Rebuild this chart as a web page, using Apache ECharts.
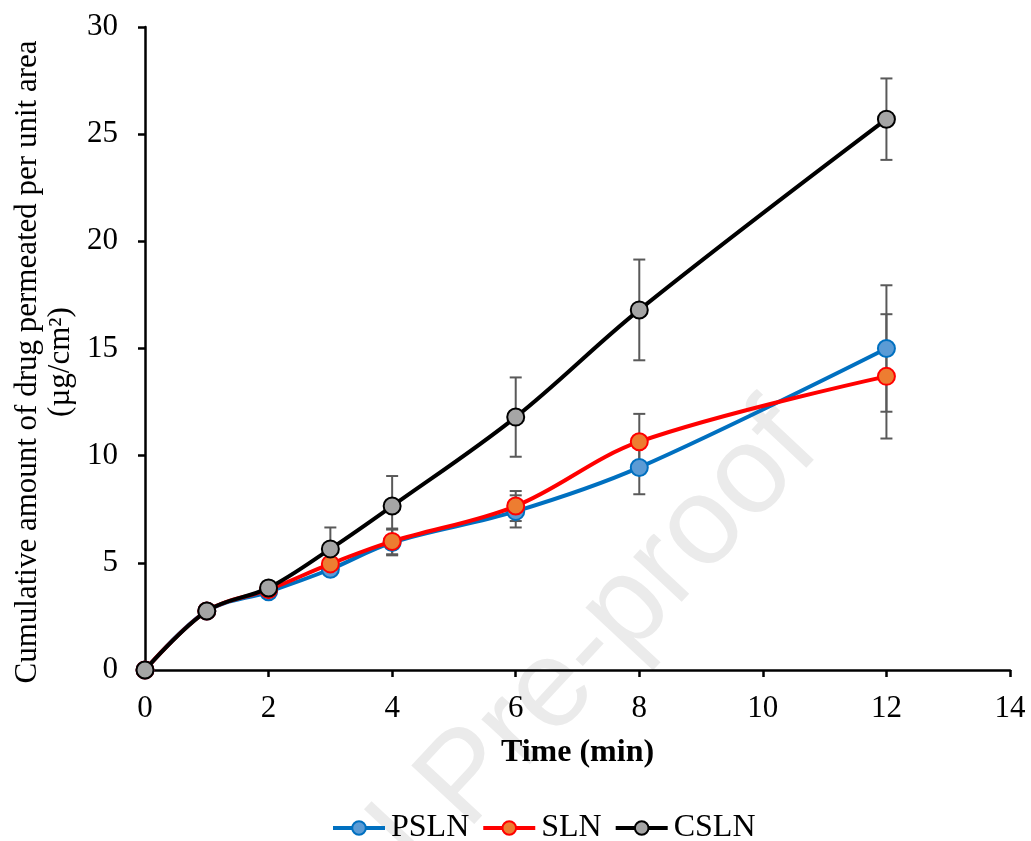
<!DOCTYPE html>
<html>
<head>
<meta charset="utf-8">
<script src="https://cdn.jsdelivr.net/npm/echarts@6/dist/echarts.min.js"></script>
<style>
html,body{margin:0;padding:0;background:#fff;}
#chart{width:1031px;height:841px;}
</style>
</head>
<body>
<div id="chart"></div>
<script>
// ---- data ----
const times = [0, 1, 2, 3, 4, 6, 8, 12];
const seriesNames = ['PSLN', 'SLN', 'CSLN'];
const psln = [0, 2.75, 3.65, 4.7, 5.95, 7.4, 9.45, 15.0];
const sln  = [0, 2.75, 3.75, 4.95, 6.0, 7.65, 10.65, 13.7];
const csln = [0, 2.75, 3.83, 5.65, 7.65, 11.8, 16.8, 25.7];
const errPsln = [0, 0, 0.15, 0.2, 0.6, 0.75, 1.25, 2.95];
const errSln  = [0, 0, 0.1, 0.2, 0.6, 0.7, 1.3, 2.9];
const errCsln = [0, 0, 0.3, 1.0, 1.4, 1.85, 2.35, 1.9];
const xTicks = [0, 2, 4, 6, 8, 10, 12, 14];
const yTicks = [0, 5, 10, 15, 20, 25, 30];

const FONT = '"Liberation Serif", "Times New Roman", serif';

const styles = [
  {line: '#0070C0', fill: '#5B9BD5', border: '#0070C0'},
  {line: '#FF0000', fill: '#ED7D31', border: '#FF0000'},
  {line: '#000000', fill: '#A5A5A5', border: '#000000'}
];
const values = [psln, sln, csln];
const errs = [errPsln, errSln, errCsln];

const chart = echarts.init(document.getElementById('chart'));

const series = [];
// error bars
values.forEach((vals, k) => {
  series.push({
    type: 'custom',
    name: seriesNames[k] + ' err',
    z: 1,
    silent: true,
    data: times.map((t, i) => [t, vals[i], errs[k][i]]),
    encode: {x: 0, y: 1},
    renderItem: function (params, api) {
      const x = api.value(0), y = api.value(1), e = api.value(2);
      if (!e) return null;
      const hi = api.coord([x, y + e]);
      const lo = api.coord([x, y - e]);
      const cw = 6;
      const st = {stroke: '#595959', lineWidth: 2};
      return {
        type: 'group',
        children: [
          {type: 'line', shape: {x1: hi[0], y1: hi[1], x2: lo[0], y2: lo[1]}, style: st},
          {type: 'line', shape: {x1: hi[0] - cw, y1: hi[1], x2: hi[0] + cw, y2: hi[1]}, style: st},
          {type: 'line', shape: {x1: lo[0] - cw, y1: lo[1], x2: lo[0] + cw, y2: lo[1]}, style: st}
        ]
      };
    }
  });
});
// lines
values.forEach((vals, k) => {
  series.push({
    type: 'line',
    name: seriesNames[k],
    z: 3 + k,
    smooth: 0.35,
    symbol: 'circle',
    symbolSize: 17,
    showAllSymbol: true,
    data: times.map((t, i) => [t, vals[i]]),
    lineStyle: {color: styles[k].line, width: 4},
    itemStyle: {color: styles[k].fill, borderColor: styles[k].border, borderWidth: 2},
    emphasis: {disabled: true}
  });
});

chart.setOption({
  animation: false,
  backgroundColor: '#ffffff',
  textStyle: {fontFamily: FONT},
  grid: {left: 145, right: 21, top: 27, bottom: 171, containLabel: false},
  graphic: [
    {
      type: 'text',
      x: 468, y: 780,
      rotation: 47 * Math.PI / 180,
      z: -10,
      silent: true,
      style: {
        text: 'Journal Pre-proof',
        font: '125px "Liberation Sans", Arial, sans-serif',
        fill: '#ebebeb',
        textAlign: 'center',
        textVerticalAlign: 'middle'
      }
    },
    {
      type: 'text',
      x: 44, y: 362,
      rotation: Math.PI / 2,
      style: {
        text: 'Cumulative amount of drug permeated per unit area\n(µg/cm²)',
        font: '31px ' + FONT,
        fill: '#000',
        textAlign: 'center',
        textVerticalAlign: 'middle',
        lineHeight: 33
      }
    }
  ],
  legend: {
    top: 812,
    left: 331,
    padding: 0,
    data: seriesNames,
    itemWidth: 52,
    itemHeight: 17,
    itemGap: 12,
    lineStyle: {width: 4},
    textStyle: {fontFamily: FONT, fontSize: 32, color: '#000', padding: [0, 0, 0, 1]}
  },
  xAxis: {
    type: 'value',
    min: xTicks[0],
    max: xTicks[xTicks.length - 1],
    interval: 2,
    name: 'Time (min)',
    nameLocation: 'middle',
    nameGap: 67,
    nameTextStyle: {fontFamily: FONT, fontSize: 32, fontWeight: 'bold', color: '#000'},
    axisLine: {lineStyle: {color: '#000', width: 2.5}},
    axisTick: {show: true, length: 7, lineStyle: {color: '#000', width: 2.5}},
    axisLabel: {fontFamily: FONT, fontSize: 31, color: '#000', margin: 23},
    splitLine: {show: false}
  },
  yAxis: {
    type: 'value',
    min: yTicks[0],
    max: yTicks[yTicks.length - 1],
    interval: 5,
    axisLine: {show: true, lineStyle: {color: '#000', width: 2.5}},
    axisTick: {show: true, length: 7, lineStyle: {color: '#000', width: 2.5}},
    axisLabel: {fontFamily: FONT, fontSize: 31, color: '#000', margin: 27},
    splitLine: {show: false}
  },
  series: series
});
</script>
</body>
</html>
